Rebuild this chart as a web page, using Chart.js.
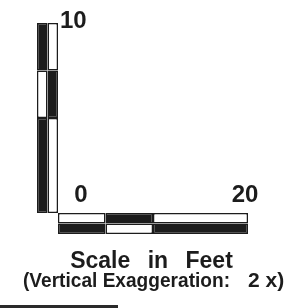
<!DOCTYPE html>
<html>
<head>
<meta charset="utf-8">
<script src="https://cdn.jsdelivr.net/npm/chart.js@4.4.1/dist/chart.umd.min.js"></script>
<style>
    html, body { margin: 0; padding: 0; background: #fff; }
    #wrap { position: relative; width: 296px; height: 308px; overflow: hidden; }
    #chart { display: block; }
    .rule { position: absolute; left: 0; top: 305px; width: 118px; height: 2.5px; background: #2a2a2a; }
</style>
</head>
<body>
<div id="wrap">
    <canvas id="chart" width="296" height="308"></canvas>
    <div class="rule"></div>
</div>
<script>
// Data (feet)
const vertSegments = [[0, 5], [5, 7.5], [7.5, 10]];
const horizSegments = [[0, 5], [5, 10], [10, 20]];
const vertTicks = [10];
const horizTicks = [0, 20];
const titleText = 'Scale in Feet';
const noteText = '(Vertical Exaggeration:';
const noteValue = '2 x)';

// Layout: where 0 ft sits on the page and how many px per foot
const X0_PX = 58, PX_PER_FT_X = 9.5;
const Y0_PX = 213, PX_PER_FT_Y = 19;
const W = 296, H = 308;
const BAR_T = 10.5;
const INK = '#1c1c1c';
const PAPER = '#ffffff';

// alternate black / white along a bar
const pattern = (segs, startDark) => segs.map((_, i) => ((i % 2 === 0) === startDark ? INK : PAPER));

// columns / rows sit just outside the zero lines (offsets in px, turned into feet)
const colX = (k) => -(k + 0.5) * BAR_T / PX_PER_FT_X;
const rowY = (k) => -(k + 0.5) * BAR_T / PX_PER_FT_Y;

const barStyle = {
    grouped: false,
    barThickness: BAR_T,
    maxBarThickness: BAR_T,
    borderColor: INK,
    borderWidth: 1.5,
    borderSkipped: false,
    inflateAmount: 0
};

const linearAxis = (min, max) => ({ type: 'linear', min, max, display: false, offset: false, grace: 0 });

const labelsPlugin = {
    id: 'scaleLabels',
    afterDraw(chart) {
        const { ctx, scales: { x, y } } = chart;
        ctx.save();
        ctx.fillStyle = INK;
        ctx.textBaseline = 'alphabetic';

        // tick numbers
        ctx.font = 'bold 24px "Liberation Sans", Arial, sans-serif';
        ctx.textAlign = 'left';
        vertTicks.forEach(v => ctx.fillText(String(v), x.getPixelForValue(0) + 2, y.getPixelForValue(v) + 5));
        ctx.textAlign = 'center';
        horizTicks.forEach(v => {
            const px = v === 0 ? x.getPixelForValue(v) + 23 : x.getPixelForValue(v) - 3;
            ctx.fillText(String(v), px, y.getPixelForValue(0) - 11.5);
        });

        // caption
        ctx.font = 'bold 23px "Liberation Sans", Arial, sans-serif';
        if ('wordSpacing' in ctx) ctx.wordSpacing = '11px';
        ctx.fillText(titleText, 151.5, 268);
        if ('wordSpacing' in ctx) ctx.wordSpacing = '0px';

        ctx.font = 'bold 21px "Liberation Sans", Arial, sans-serif';
        ctx.textAlign = 'left';
        ctx.fillText(noteText, 23, 287, 207);
        ctx.fillText(noteValue, 248, 287);
        ctx.restore();
    }
};

new Chart(document.getElementById('chart'), {
    type: 'bar',
    data: {
        datasets: [
            // vertical bar: outer column solid pattern, inner column opposite
            { ...barStyle, indexAxis: 'x', data: vertSegments.map(s => ({ x: colX(1), y: s })), backgroundColor: pattern(vertSegments, true) },
            { ...barStyle, indexAxis: 'x', data: vertSegments.map(s => ({ x: colX(0), y: s })), backgroundColor: pattern(vertSegments, false) },
            // horizontal bar: top row, bottom row
            { ...barStyle, indexAxis: 'y', data: horizSegments.map(s => ({ y: rowY(0), x: s })), backgroundColor: pattern(horizSegments, false) },
            { ...barStyle, indexAxis: 'y', data: horizSegments.map(s => ({ y: rowY(1), x: s })), backgroundColor: pattern(horizSegments, true) }
        ]
    },
    options: {
        responsive: false,
        animation: false,
        devicePixelRatio: 1,
        layout: { padding: 0 },
        scales: {
            x: linearAxis(-X0_PX / PX_PER_FT_X, (W - X0_PX) / PX_PER_FT_X),
            y: linearAxis(-(H - Y0_PX) / PX_PER_FT_Y, Y0_PX / PX_PER_FT_Y)
        },
        plugins: { legend: { display: false }, tooltip: { enabled: false } }
    },
    plugins: [labelsPlugin]
});
</script>
</body>
</html>
